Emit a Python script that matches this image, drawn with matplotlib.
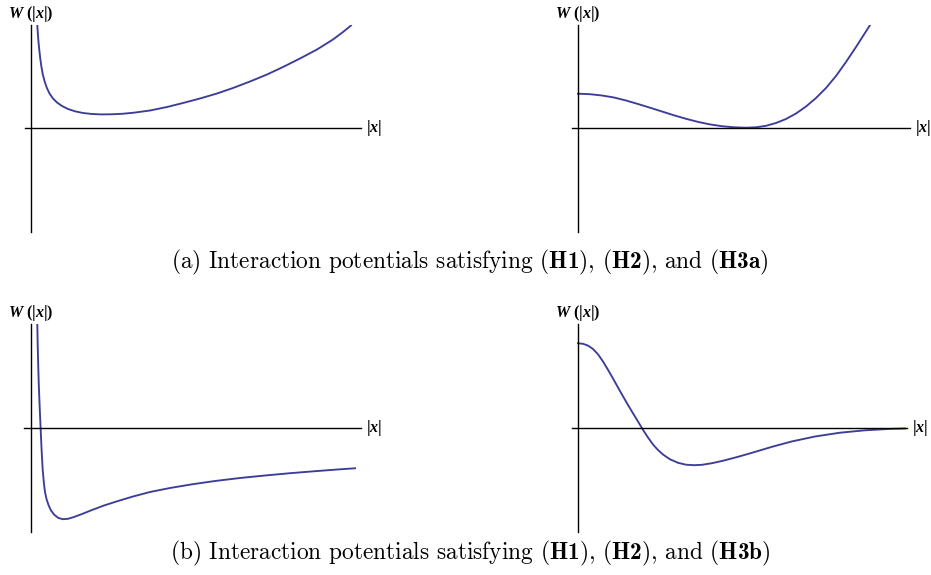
import matplotlib
matplotlib.use("Agg")
import matplotlib.pyplot as plt

plt.rcParams['mathtext.fontset'] = 'custom'
plt.rcParams['mathtext.rm'] = 'cmr10'
plt.rcParams['mathtext.bf'] = 'cmb10'
plt.rcParams['mathtext.it'] = 'cmmi10'
plt.rcParams['mathtext.bfit'] = 'Liberation Serif:italic:bold'
plt.rcParams['axes.formatter.use_mathtext'] = True

# ---- data (arbitrary units; |x| >= 0, W(|x|)) ----
a1_x = [6.3, 6.8, 7.5, 8.3, 9.2, 10.3, 11.7, 13.5, 15.7, 18.5, 22, 26, 31, 37, 44, 52, 61, 70,
        80, 91, 102, 119, 136, 152, 169, 186, 202, 219, 236, 252, 269, 286, 302, 312, 320]
a1_w = [103, 95, 86, 78, 70, 62, 54, 47, 40.5, 34.5, 29.5, 25.5, 22, 19, 16.7, 15, 14, 13.6,
        13.7, 14.2, 15.2, 17.5, 21, 25, 29.5, 34.5, 40, 46.5, 53.5, 61, 69.5, 78.5, 88.5, 96, 102.5]

a2_x = [0, 12, 24, 36, 48, 60, 72, 84, 96, 108, 120, 132, 144, 156, 168, 178, 188, 198, 208,
        218, 228, 238, 248, 258, 268, 278, 286, 294]
a2_w = [34.3, 33.8, 32.5, 30.5, 27.5, 24, 20.3, 16.5, 12.7, 9.2, 6.1, 3.6, 1.8, 0.7, 0.3, 0.7,
        2.2, 5, 9, 14.5, 21.5, 30, 40, 52, 66, 81, 93.5, 106]

b1_x = [6.3, 6.7, 7.2, 7.8, 8.6, 9.6, 10.6, 11.7, 13, 14, 15.5, 17.5, 20, 23.5, 27.5, 32, 37,
        43, 51, 61, 73, 87, 102, 119, 139, 161, 184, 209, 234, 259, 284, 309, 324]
b1_w = [105, 83, 63, 43, 23, 0, -22, -42, -56, -64, -71, -77, -82.5, -87, -90, -91.2, -90.8,
        -89, -86, -82, -77.5, -73, -68.5, -64, -60, -56.3, -53, -50, -47.5, -45.2, -43.2, -41.3, -40.3]

b2_x = [0, 5, 10, 15, 20, 25, 30, 35, 40, 45, 50, 55, 60, 65, 70, 75, 80, 85, 92, 100, 108,
        116, 124, 134, 146, 160, 176, 194, 214, 237, 262, 287, 312, 327]
b2_w = [84.7, 84.2, 82.4, 79, 73.7, 66.5, 58.2, 49.5, 40.5, 31.7, 23, 14.7, 6.5, -1.8, -9.5,
        -16.5, -22, -26.5, -31.3, -34.8, -36.7, -37.2, -36.8, -35.2, -32.5, -28.8, -24.2, -18.8,
        -13.4, -8.5, -4.7, -2.3, -0.9, -0.5]

y_label = "$\\mathbfit{W}$ (|$\\mathbfit{x}$|)"
x_label = "|$\\mathbfit{x}$|"
captions = ["(a) Interaction potentials satisfying ($\\mathbf{H1}$), ($\\mathbf{H2}$), and ($\\mathbf{H3a}$)",
            "(b) Interaction potentials satisfying ($\\mathbf{H1}$), ($\\mathbf{H2}$), and ($\\mathbf{H3b}$)"]

# ---- layout ----
W, H = 931, 575
fig = plt.figure(figsize=(W / 100, H / 100), dpi=100)

panels = [
    # (x series, w series, origin px x, origin px y, left px, right px, top px, bottom px)
    (a1_x, a1_w, 31, 128, 25, 361, 25, 232),
    (a2_x, a2_w, 578, 128, 572, 910, 25, 232),
    (b1_x, b1_w, 31, 428, 24, 361, 324, 532),
    (b2_x, b2_w, 578, 428, 572, 907, 324, 532),
]

curve_color = '#3d3d99'
for xs, ws, ox, oy, l, r, t, b in panels:
    ax = fig.add_axes([l / W, 1 - b / H, (r - l) / W, (b - t) / H])
    ax.set_xlim(l - ox, r - ox)
    ax.set_ylim(oy - b, oy - t)
    ax.set_facecolor('none')
    for s in ['top', 'right']:
        ax.spines[s].set_visible(False)
    ax.spines['left'].set_position(('data', 0))
    ax.spines['bottom'].set_position(('data', 0))
    for s in ['left', 'bottom']:
        ax.spines[s].set_linewidth(1.0)
        ax.spines[s].set_color('black')
    ax.set_xticks([])
    ax.set_yticks([])
    ax.plot(xs, ws, color=curve_color, lw=1.35, solid_joinstyle='round', clip_on=True)
    # labels
    fig.text(ox / W, 1 - (t - 11) / H, y_label, ha='center', va='center',
             family='Liberation Serif', weight='bold', fontsize=11.5)
    fig.text((r + 5) / W, 1 - oy / H, x_label, ha='left', va='center',
             family='Liberation Serif', weight='bold', fontsize=11.5)

fig.text(470 / W, 1 - 262 / H, captions[0], ha='center', va='center',
         family='cmr10', fontsize=16.8)
fig.text(470 / W, 1 - 553 / H, captions[1], ha='center', va='center',
         family='cmr10', fontsize=16.8)

fig.savefig('out.png', dpi=100, facecolor='white')
